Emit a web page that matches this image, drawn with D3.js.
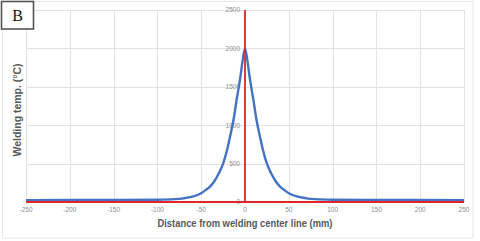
<!DOCTYPE html>
<html><head><meta charset="utf-8">
<script src="https://cdn.jsdelivr.net/npm/d3@7"></script>
<style>body{margin:0;background:#fff}svg{display:block}</style>
</head><body>
<svg id="c" width="480" height="241"></svg>
<script>
const distances = [-250,-200,-150,-100,-80,-70,-60,-50,-45,-40,-35,-30,-25,-20,-17.5,-15,-12.5,-10,-7.5,-5,-2.5,0,2.5,5,7.5,10,12.5,15,17.5,20,25,30,35,40,45,50,60,70,80,100,150,200,250];
const temps =     [25,26,27,30,37,48,70,115,155,200,270,370,500,700,830,960,1110,1300,1470,1650,1860,2000,1860,1650,1470,1300,1110,960,830,700,500,370,270,200,155,115,70,48,37,30,27,26,25];
const xTicks = [-250,-200,-150,-100,-50,0,50,100,150,200,250];
const yTicks = [0,500,1000,1500,2000,2500];
const xTitle = "Distance from welding center line (mm)";
const yTitle = "Welding temp. (°C)";
const panelLabel = "B";

const svg = d3.select("#c");
const x = d3.scaleLinear().domain([-250,250]).range([26,464]);
const y = d3.scaleLinear().domain([0,2500]).range([202,10]);

// outer border
svg.append("rect").attr("x",2.5).attr("y",1.5).attr("width",470.5).attr("height",236.5)
  .attr("fill","none").attr("stroke","#e6e6e6").attr("stroke-width",1);

// gridlines
const g = svg.append("g");
g.selectAll(".vg").data(xTicks).join("line")
  .attr("x1",d=>Math.round(x(d))+0.5).attr("x2",d=>Math.round(x(d))+0.5)
  .attr("y1",y(2500)).attr("y2",y(0)).attr("stroke","#e3e3e3").attr("stroke-width",1);
g.selectAll(".hg").data(yTicks).join("line")
  .attr("x1",x(-250)).attr("x2",x(250))
  .attr("y1",d=>Math.round(y(d))+0.5).attr("y2",d=>Math.round(y(d))+0.5)
  .attr("stroke","#e3e3e3").attr("stroke-width",1);

// x tick labels
svg.append("g").selectAll("text").data(xTicks).join("text")
  .attr("x",d=>x(d)).attr("y",212).attr("text-anchor","middle")
  .attr("font-family","Liberation Sans, Arial, sans-serif").attr("font-size",6.5)
  .attr("fill","#8c8c8c").text(d=>d);

// y tick labels (at x=0)
svg.append("g").selectAll("text").data(yTicks).join("text")
  .attr("x",x(0)-5).attr("y",d=>y(d)+2.3).attr("text-anchor","end")
  .attr("font-family","Liberation Sans, Arial, sans-serif").attr("font-size",6.5)
  .attr("fill","#8c8c8c").text(d=>d);

// curve
const line = d3.line().x((d,i)=>x(distances[i])).y(d=>y(d)).curve(d3.curveMonotoneX);
svg.append("path").datum(temps).attr("d",line).attr("fill","none")
  .attr("stroke","#4472c4").attr("stroke-width",2.4).attr("stroke-linejoin","round");

// red axis lines
svg.append("line").attr("x1",x(-250)).attr("x2",x(250)).attr("y1",y(0)).attr("y2",y(0))
  .attr("stroke","#e02626").attr("stroke-width",1.8);
svg.append("line").attr("x1",x(0)).attr("x2",x(0)).attr("y1",y(2500)).attr("y2",y(0))
  .attr("stroke","#e02626").attr("stroke-width",1.8);

// axis titles
svg.append("text").attr("x",245).attr("y",227).attr("text-anchor","middle")
  .attr("font-family","Liberation Sans, Arial, sans-serif").attr("font-weight","bold")
  .attr("font-size",10.5).attr("fill","#595959")
  .attr("textLength",175).attr("lengthAdjust","spacingAndGlyphs").text(xTitle);
svg.append("text").attr("transform","translate(21,110) rotate(-90)").attr("text-anchor","middle")
  .attr("font-family","Liberation Sans, Arial, sans-serif").attr("font-weight","bold")
  .attr("font-size",10.5).attr("fill","#595959")
  .attr("textLength",93).attr("lengthAdjust","spacingAndGlyphs").text(yTitle);

// panel label
svg.append("rect").attr("x",1.5).attr("y",1.5).attr("width",32).attr("height",27.5)
  .attr("fill","#fff").attr("stroke","#555").attr("stroke-width",1.6);
svg.append("text").attr("x",17.5).attr("y",21).attr("text-anchor","middle")
  .attr("font-family","Liberation Serif, Times New Roman, serif").attr("font-size",16)
  .attr("fill","#111").text(panelLabel);
</script>
</body></html>
